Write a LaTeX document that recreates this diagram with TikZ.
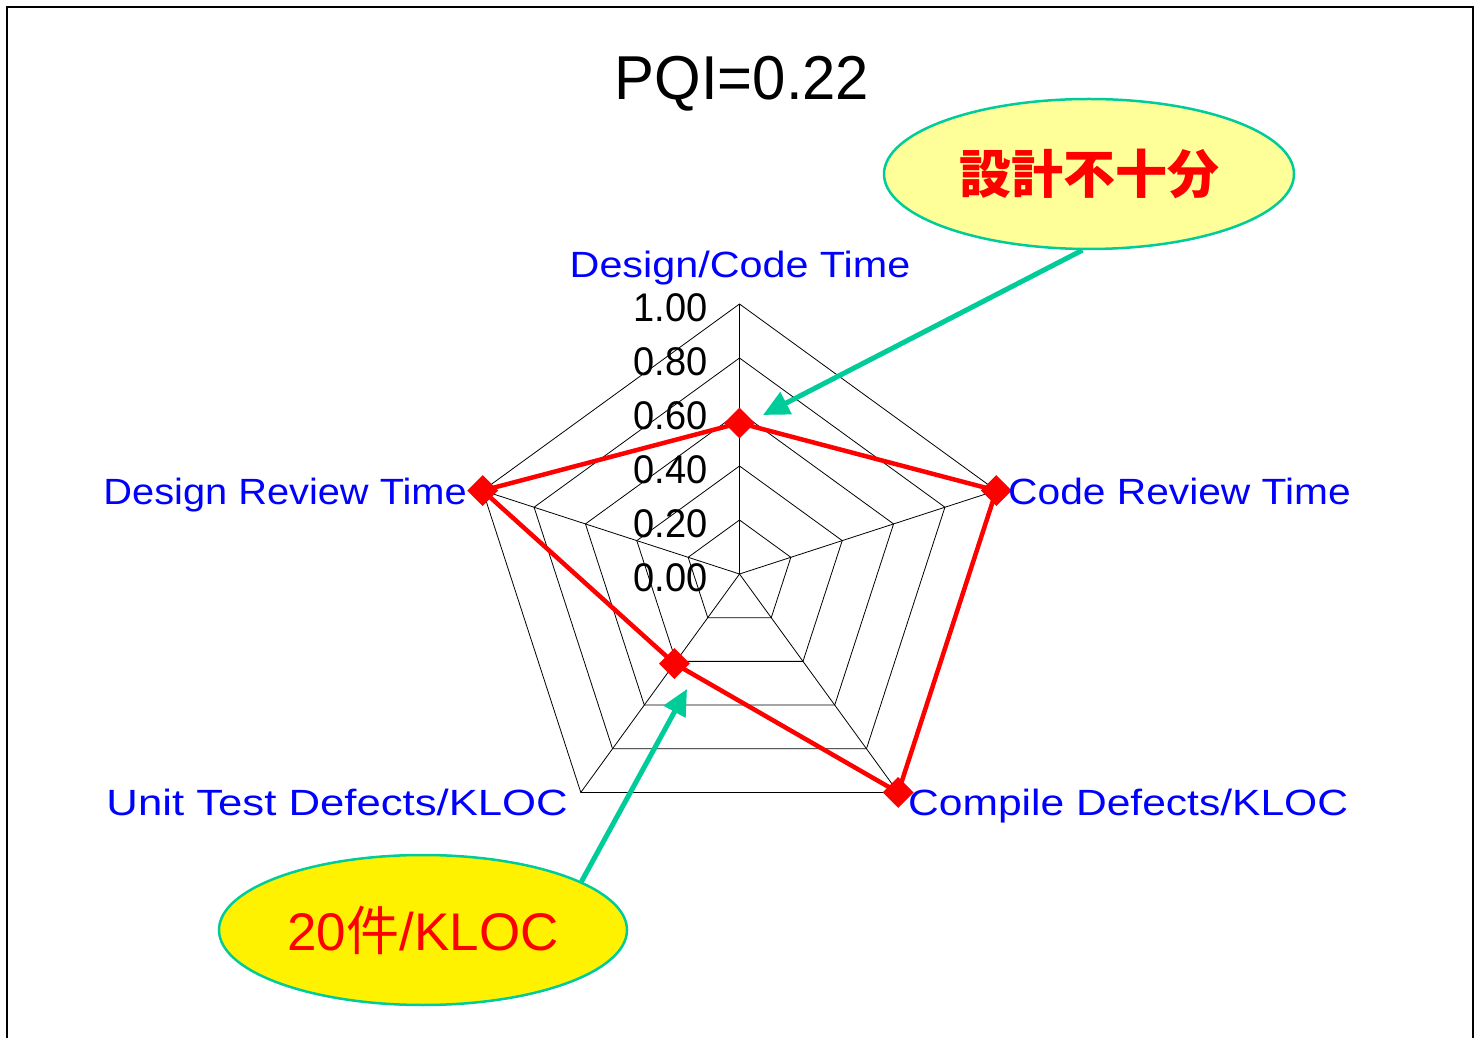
\documentclass[tikz,border=0pt]{standalone}
\usepackage{fontspec}
\usepackage{graphicx}
\setmainfont{Liberation Sans}
\newfontfamily\jp{Noto Sans CJK JP}
\usetikzlibrary{shapes.geometric,arrows.meta,calc}
\definecolor{axisblue}{RGB}{0,0,255}
\definecolor{calloutline}{RGB}{0,204,153}
\definecolor{paleyellow}{RGB}{255,255,153}
\definecolor{seriesred}{RGB}{255,0,0}
\newcommand{\wide}[2]{\scalebox{#1}[1]{#2}}
\tikzset{
  grid/.style={black, line width=0.8pt},
  series/.style={seriesred, line width=4.5pt, line join=round},
  marker/.style={diamond, fill=seriesred, inner sep=0pt, minimum width=31pt, minimum height=31pt},
  axislabel/.style={text=axisblue, font=\fontsize{36.5}{44}\selectfont, inner sep=0pt},
  num/.style={text=black, font=\fontsize{40}{48}\selectfont, inner sep=0pt, anchor=base east},
  callout/.style={ellipse, draw=calloutline, line width=2.5pt, inner sep=0pt,
    minimum width=410pt, minimum height=150pt, text=seriesred},
  pointer/.style={calloutline, line width=5pt, -{Triangle[length=26pt,width=24pt]}},
}
\begin{document}
\begin{tikzpicture}[x=1pt,y=1pt]
\useasboundingbox (0,0) rectangle (1475,1037);
\fill[white] (0,0) rectangle (1475,1037);
% frame, open at the bottom
\draw[line width=1.6pt, line cap=rect] (7,0) -- (7,1030) -- (1473,1030) -- (1473,0);

% title
\node[font=\fontsize{62}{74}\selectfont, inner sep=0pt, anchor=base] (title) at (742,937)
  {\wide{0.965}{PQI=0.22}};

% radar grid
\coordinate (O) at (739.5,463);
\begin{scope}[shift={(O)}]
  \coordinate (v1) at (90:270);
  \coordinate (v2) at (18:270);
  \coordinate (v3) at (-54:270);
  \coordinate (v4) at (-126:270);
  \coordinate (v5) at (162:270);
  \foreach \r in {54,108,162,216,270}
    \draw[grid] (90:\r) -- (18:\r) -- (-54:\r) -- (-126:\r) -- (162:\r) -- cycle;
  \foreach \v in {v1,v2,v3,v4,v5}
    \draw[grid] (0,0) -- (\v);

  % data points
  \coordinate (d1) at (90:151);
  \coordinate (d2) at (18:270);
  \coordinate (d3) at (-54:270);
  \coordinate (d4) at (-126:110.7);
  \coordinate (d5) at (162:270);
\end{scope}

% scale values
\node[num] (n0) at (708,445) {\wide{0.95}{0.00}};
\node[num] (n1) at (708,499) {\wide{0.95}{0.20}};
\node[num] (n2) at (708,553) {\wide{0.95}{0.40}};
\node[num] (n3) at (708,607) {\wide{0.95}{0.60}};
\node[num] (n4) at (708,661) {\wide{0.95}{0.80}};
\node[num] (n5) at (708,715) {\wide{0.95}{1.00}};

% data series
\draw[series] (d1) -- (d2) -- (d3) -- (d4) -- (d5) -- cycle;
\foreach \d in {d1,d2,d3,d4,d5}
  \node[marker] at (\d) {};

% axis labels
\node[axislabel, anchor=base] (lDC) at (740,759) {\wide{1.132}{Design/Code Time}};
\node[axislabel, anchor=base west] (lCR) at (1008,532) {\wide{1.116}{Code Review Time}};
\node[axislabel, anchor=base east] (lDR) at (467,532) {\wide{1.09}{Design Review Time}};
\node[axislabel, anchor=base west] (lCD) at (908,222) {\wide{1.166}{Compile Defects/KLOC}};
\node[axislabel, anchor=base east] (lUT) at (568,222) {\wide{1.197}{Unit Test Defects/KLOC}};

% callouts
\node[callout, fill=paleyellow] (e1) at (1089,863)
  {\fontsize{52}{60}\selectfont\jp\bfseries 設計不十分};
\node[callout, fill=yellow, minimum width=408pt] (e2) at (423,107)
  {\fontsize{53}{61}\selectfont 20{\jp 件}/KLOC};

\coordinate (t1) at (763,622);
\coordinate (t2) at (687,348);
\draw[pointer] (e1.265) -- (t1);
\draw[pointer] (e2.17) -- (t2);
\end{tikzpicture}
\end{document}
